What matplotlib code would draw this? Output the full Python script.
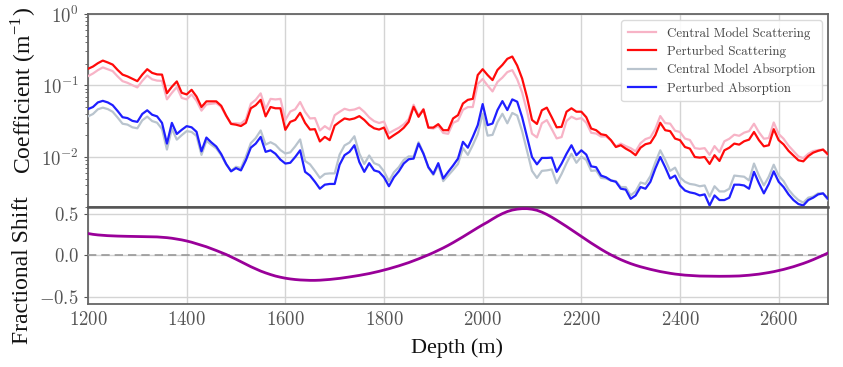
import numpy as np
import matplotlib
matplotlib.use("Agg")
import matplotlib.pyplot as plt
from matplotlib.gridspec import GridSpec

plt.rcParams['font.family'] = 'serif'
plt.rcParams['font.serif'] = ['cmr10']
plt.rcParams['mathtext.fontset'] = 'cm'
plt.rcParams['axes.formatter.use_mathtext'] = True
plt.rcParams['axes.unicode_minus'] = True

depth = np.arange(1200, 2710, 10)

perturbed_scattering = [
    0.171, 0.184, 0.205, 0.223, 0.210, 0.196, 0.165, 0.142, 0.134, 0.124,
    0.115, 0.142, 0.169, 0.150, 0.143, 0.142, 0.078, 0.096, 0.114, 0.079,
    0.075, 0.087, 0.070, 0.050, 0.060, 0.060, 0.060, 0.052, 0.038, 0.029,
    0.0283, 0.0271, 0.030, 0.048, 0.053, 0.063, 0.037, 0.050, 0.048, 0.048,
    0.024, 0.031, 0.033, 0.0415, 0.030, 0.0242, 0.0245, 0.0165, 0.0191, 0.0172,
    0.0275, 0.031, 0.0346, 0.0334, 0.0346, 0.0373, 0.0330, 0.0280, 0.0252, 0.0242,
    0.0258, 0.0181, 0.0202, 0.0224, 0.0256, 0.0310, 0.0504, 0.0365, 0.0462, 0.0258,
    0.0258, 0.0288, 0.0237, 0.0237, 0.0346, 0.0385, 0.056, 0.063, 0.065, 0.140,
    0.169, 0.140, 0.119, 0.165, 0.194, 0.236, 0.254, 0.190, 0.125, 0.068,
    0.033, 0.029, 0.045, 0.049, 0.036, 0.026, 0.0264, 0.043, 0.048, 0.043,
    0.043, 0.036, 0.025, 0.0237, 0.0208, 0.0202, 0.0172, 0.0138, 0.0146, 0.0131,
    0.0120, 0.0106, 0.0135, 0.0151, 0.0157, 0.0202, 0.0301, 0.0237, 0.0230, 0.0181,
    0.0172, 0.0138, 0.0131, 0.0100, 0.0098, 0.0100, 0.0080, 0.0106, 0.0088, 0.0124,
    0.0135, 0.0154, 0.0149, 0.0166, 0.0175, 0.0224, 0.0172, 0.0141, 0.0146, 0.0245,
    0.0172, 0.0150, 0.0122, 0.0105, 0.0090, 0.0087, 0.0103, 0.0115, 0.0122, 0.0127,
    0.0109]

central_scattering = [
    0.135, 0.147, 0.164, 0.179, 0.169, 0.159, 0.134, 0.115, 0.109, 0.101,
    0.094, 0.116, 0.138, 0.122, 0.117, 0.116, 0.064, 0.079, 0.095, 0.067,
    0.064, 0.075, 0.061, 0.0445, 0.0543, 0.0554, 0.0566, 0.0502, 0.0375, 0.0295,
    0.0296, 0.0293, 0.0335, 0.0555, 0.0632, 0.0776, 0.0468, 0.065, 0.0638, 0.065,
    0.033, 0.0432, 0.0465, 0.0588, 0.0428, 0.0346, 0.035, 0.0235, 0.027, 0.0242,
    0.0384, 0.0428, 0.0473, 0.0451, 0.0461, 0.0491, 0.0428, 0.0358, 0.0317, 0.0299,
    0.0313, 0.0215, 0.0236, 0.0256, 0.0286, 0.0339, 0.0538, 0.0381, 0.0470, 0.0256,
    0.0249, 0.0271, 0.0217, 0.0211, 0.030, 0.0323, 0.0457, 0.0499, 0.050, 0.105,
    0.123, 0.0998, 0.0826, 0.112, 0.129, 0.154, 0.164, 0.122, 0.080, 0.0435,
    0.0212, 0.0188, 0.0296, 0.0328, 0.0246, 0.0182, 0.019, 0.0319, 0.0366, 0.0338,
    0.035, 0.0302, 0.0218, 0.0213, 0.0193, 0.0194, 0.0171, 0.0141, 0.0154, 0.0142,
    0.0133, 0.0120, 0.0156, 0.0178, 0.0188, 0.0247, 0.0374, 0.0298, 0.0293, 0.0233,
    0.0224, 0.0181, 0.0173, 0.0133, 0.0130, 0.0133, 0.0107, 0.0142, 0.0117, 0.0166,
    0.018, 0.0205, 0.0198, 0.0219, 0.023, 0.0292, 0.0222, 0.018, 0.0184, 0.0304,
    0.021, 0.018, 0.0144, 0.0121, 0.0102, 0.0096, 0.0111, 0.0121, 0.0125, 0.0127,
    0.0106]

perturbed_absorption = [
    0.0468, 0.050, 0.058, 0.061, 0.058, 0.053, 0.044, 0.036, 0.035, 0.032,
    0.031, 0.040, 0.045, 0.039, 0.037, 0.030, 0.0154, 0.030, 0.021, 0.024,
    0.027, 0.026, 0.0225, 0.0120, 0.0187, 0.0160, 0.0140, 0.0110, 0.0080, 0.0063,
    0.0070, 0.0065, 0.0090, 0.0135, 0.0154, 0.0191, 0.0118, 0.0124, 0.0111, 0.0092,
    0.0081, 0.0083, 0.0100, 0.0124, 0.0062, 0.0055, 0.0045, 0.0036, 0.0041, 0.0042,
    0.0042, 0.0078, 0.0106, 0.0118, 0.0146, 0.0085, 0.0062, 0.0082, 0.0065, 0.0062,
    0.0052, 0.0039, 0.0052, 0.0063, 0.0081, 0.0093, 0.0095, 0.0154, 0.0111, 0.0072,
    0.0058, 0.0082, 0.0050, 0.0062, 0.0076, 0.0095, 0.0163, 0.0135, 0.0191, 0.0279,
    0.0550, 0.0279, 0.0294, 0.0453, 0.0605, 0.0453, 0.0639, 0.0593, 0.036, 0.019,
    0.0100, 0.0079, 0.0097, 0.0097, 0.0098, 0.0062, 0.0081, 0.0111, 0.0146, 0.0106,
    0.0124, 0.0108, 0.0074, 0.0072, 0.0055, 0.0052, 0.0047, 0.0045, 0.0036, 0.0035,
    0.0026, 0.0029, 0.0038, 0.0036, 0.0045, 0.0069, 0.0100, 0.0072, 0.0050, 0.0055,
    0.0040, 0.0034, 0.0032, 0.0031, 0.0029, 0.0030, 0.0021, 0.0029, 0.0025, 0.0025,
    0.0027, 0.0041, 0.0041, 0.0040, 0.0036, 0.0062, 0.0043, 0.0031, 0.0042, 0.0063,
    0.0045, 0.0038, 0.0030, 0.0025, 0.0022, 0.0021, 0.0025, 0.0027, 0.0030, 0.0031,
    0.0026]

central_absorption = [
    0.037, 0.0399, 0.0465, 0.049, 0.0468, 0.0429, 0.0356, 0.0292, 0.0284, 0.026,
    0.0252, 0.0326, 0.0367, 0.0318, 0.0302, 0.0246, 0.0127, 0.0248, 0.0175, 0.0202,
    0.023, 0.0224, 0.0197, 0.0107, 0.0169, 0.0148, 0.0132, 0.0106, 0.0079, 0.0064,
    0.0073, 0.007, 0.0101, 0.0156, 0.0184, 0.0235, 0.0149, 0.0161, 0.0148, 0.0125,
    0.0112, 0.0116, 0.0141, 0.0176, 0.0088, 0.0079, 0.0064, 0.0051, 0.0058, 0.0059,
    0.0059, 0.0108, 0.0145, 0.0159, 0.0195, 0.0112, 0.008, 0.0105, 0.0082, 0.0077,
    0.0063, 0.0046, 0.0061, 0.0072, 0.0091, 0.0102, 0.0101, 0.0161, 0.0113, 0.0071,
    0.0056, 0.0077, 0.0046, 0.0055, 0.0066, 0.008, 0.0133, 0.0107, 0.0147, 0.0209,
    0.0402, 0.0199, 0.0204, 0.0307, 0.0402, 0.0296, 0.0413, 0.038, 0.023, 0.0121,
    0.0064, 0.0051, 0.0064, 0.0065, 0.0067, 0.0043, 0.0058, 0.0082, 0.0111, 0.0083,
    0.0101, 0.0091, 0.0064, 0.0065, 0.0051, 0.005, 0.0047, 0.0046, 0.0038, 0.0038,
    0.0029, 0.0033, 0.0044, 0.0042, 0.0054, 0.0084, 0.0124, 0.0091, 0.0064, 0.0071,
    0.0052, 0.0045, 0.0042, 0.0041, 0.0039, 0.004, 0.0028, 0.0039, 0.0033, 0.0033,
    0.0036, 0.0055, 0.0054, 0.0053, 0.0047, 0.0081, 0.0055, 0.004, 0.0053, 0.0078,
    0.0055, 0.0046, 0.0035, 0.0029, 0.0025, 0.0023, 0.0027, 0.0028, 0.0031, 0.0031,
    0.0025]

fractional_shift = [
    0.265, 0.255, 0.248, 0.243, 0.239, 0.236, 0.234, 0.232, 0.231, 0.230,
    0.229, 0.228, 0.227, 0.226, 0.224, 0.220, 0.215, 0.208, 0.198, 0.188,
    0.175, 0.160, 0.142, 0.124, 0.105, 0.083, 0.060, 0.036, 0.012, -0.016,
    -0.045, -0.075, -0.105, -0.135, -0.162, -0.188, -0.210, -0.230, -0.248, -0.262,
    -0.274, -0.283, -0.290, -0.295, -0.298, -0.300, -0.300, -0.298, -0.294, -0.289,
    -0.283, -0.276, -0.268, -0.259, -0.250, -0.240, -0.229, -0.218, -0.205, -0.191,
    -0.176, -0.160, -0.143, -0.125, -0.106, -0.086, -0.064, -0.041, -0.017, 0.008,
    0.034, 0.062, 0.091, 0.122, 0.155, 0.190, 0.225, 0.262, 0.298, 0.335,
    0.370, 0.403, 0.440, 0.475, 0.505, 0.530, 0.548, 0.559, 0.565, 0.565,
    0.558, 0.545, 0.523, 0.495, 0.462, 0.426, 0.388, 0.350, 0.310, 0.270,
    0.230, 0.190, 0.150, 0.112, 0.075, 0.040, 0.008, -0.022, -0.050, -0.075,
    -0.098, -0.118, -0.136, -0.152, -0.167, -0.181, -0.194, -0.205, -0.215, -0.224,
    -0.231, -0.237, -0.241, -0.245, -0.248, -0.249, -0.250, -0.251, -0.251, -0.251,
    -0.250, -0.249, -0.247, -0.243, -0.238, -0.232, -0.225, -0.216, -0.206, -0.195,
    -0.182, -0.168, -0.152, -0.135, -0.116, -0.096, -0.074, -0.050, -0.024, 0.002,
    0.030]

x_ticks = [1200, 1400, 1600, 1800, 2000, 2200, 2400, 2600]
shift_ticks = [-0.5, 0.0, 0.5]

label_font = 'Liberation Serif'
tick_color = '#555555'
spine_color = '#666666'
grid_color = '#d4d4d4'

fig = plt.figure(figsize=(8.43, 3.67), dpi=100)
gs = GridSpec(2, 1, figure=fig, height_ratios=[193, 97], hspace=0,
              left=0.1044, right=0.9822, top=0.9619, bottom=0.1717)
ax1 = fig.add_subplot(gs[0])
ax2 = fig.add_subplot(gs[1], sharex=ax1)

ax1.plot(depth, central_scattering, color='#f7b3c6', lw=1.6, label='Central Model Scattering', zorder=3)
ax1.plot(depth, perturbed_scattering, color='#ff0a0a', lw=1.6, label='Perturbed Scattering', zorder=4)
ax1.plot(depth, central_absorption, color='#b9c4ce', lw=1.6, label='Central Model Absorption', zorder=3)
ax1.plot(depth, perturbed_absorption, color='#1f1fff', lw=1.6, label='Perturbed Absorption', zorder=4)
ax1.set_yscale('log')
ax1.set_ylim(2e-3, 1)
ax1.set_xlim(1200, 2700)
ax1.set_yticks([1e-2, 1e-1, 1])
ax1.set_xticks(x_ticks)
ax1.tick_params(axis='x', which='both', labelbottom=False, length=0)

leg = ax1.legend(loc='upper right', fontsize=9.3, frameon=True, fancybox=True,
                 edgecolor='#d8d8d8', framealpha=0.9, borderpad=0.5, handlelength=2.2,
                 labelspacing=0.45)
for t in leg.get_texts():
    t.set_color('#444444')

ax2.plot(depth, fractional_shift, color='#990099', lw=2.0, zorder=4)
ax2.axhline(0.0, color='#999999', lw=1.2, ls=(0, (5, 3)), zorder=3)
ax2.set_ylim(-0.585, 0.585)
ax2.set_yticks(shift_ticks)
ax2.set_xticks(x_ticks)

for ax in (ax1, ax2):
    ax.grid(True, which='major', color=grid_color, lw=1.0, zorder=0)
    ax.set_axisbelow(True)
    for s in ax.spines.values():
        s.set_color(spine_color)
        s.set_linewidth(1.3)
    ax.tick_params(axis='both', which='major', labelsize=13.5, colors=tick_color,
                   length=3, width=0.8)
    ax.tick_params(axis='y', which='minor', length=2, width=0.6, colors=tick_color)
ax2.tick_params(axis='x', length=0, pad=5)
ax2.spines['top'].set_color('#555555')
ax2.spines['top'].set_linewidth(1.8)

# axis titles placed where the reference shows them
fig.text(23 / 843, 1 - 90 / 367, 'Coefficient (m$^{\\mathregular{-1}}$)', family=label_font,
         fontsize=17, color='#111111', rotation=90, ha='center', va='center')
fig.text(23 / 843, 1 - 270 / 367, 'Fractional Shift', family=label_font,
         fontsize=17, color='#111111', rotation=90, ha='center', va='center')
fig.text(457 / 843, 1 - 348 / 367, 'Depth (m)', family=label_font,
         fontsize=16, color='#111111', ha='center', va='center')

fig.savefig('out.png', dpi=100)
